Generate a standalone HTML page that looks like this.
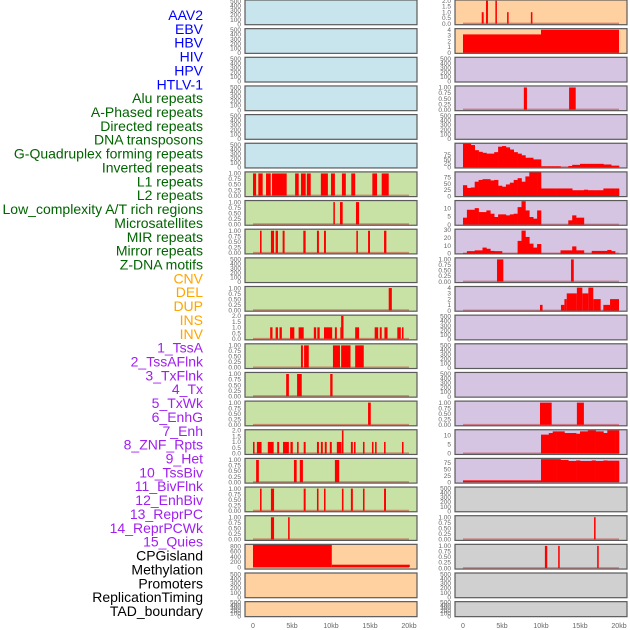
<!DOCTYPE html>
<html><head><meta charset="utf-8"><style>
html,body{margin:0;padding:0;background:#fff;width:630px;height:630px;overflow:hidden}
svg{display:block}
</style></head><body>
<svg id="chart" width="630" height="630" xmlns="http://www.w3.org/2000/svg" font-family="Liberation Sans, sans-serif"></svg>
<script>
// ---- track labels ----
const trackLabels = ["AAV2","EBV","HBV","HIV","HPV","HTLV-1","Alu repeats","A-Phased repeats","Directed repeats","DNA transposons","G-Quadruplex forming repeats","Inverted repeats","L1 repeats","L2 repeats","Low_complexity A/T rich regions","Microsatellites","MIR repeats","Mirror repeats","Z-DNA motifs","CNV","DEL","DUP","INS","INV","1_TssA","2_TssAFlnk","3_TxFlnk","4_Tx","5_TxWk","6_EnhG","7_Enh","8_ZNF_Rpts","9_Het","10_TssBiv","11_BivFlnk","12_EnhBiv","13_ReprPC","14_ReprPCWk","15_Quies","CPGisland","Methylation","Promoters","ReplicationTiming","TAD_boundary"];
const labelGroups = [6,13,5,15,5];
const groupColors = ["#0000ff","#006400","#ffa500","#a020f0","#000000"];
const xTickValues = [0,5,10,15,20];
const xTickLabels = ["0","5kb","10kb","15kb","20kb"];

// ---- segment data [startKb, endKb, value] ----
const leftL1 = [[0,0.4,1],[0.68,1.24,1],[1.67,2.27,1],[2.44,4.32,1],[5.4,5.86,1],[6.15,6.76,1],[6.9,7.4,1],[8.7,9.6,1],[10,10.5,1],[11.4,11.9,1],[12.6,13.1,1],[15.3,15.9,1],[16.5,17.4,1]];
const leftL2 = [[10.3,10.5,1],[11.15,11.5,1],[13.2,13.6,1]];
const leftMIR = [[0.9,1.1,1],[2.3,2.7,1],[2.9,3.2,1],[3.8,4.05,1],[6.45,6.75,1],[8.2,8.45,1],[9.1,9.35,1],[13.25,13.45,1],[14.75,15,1],[16.8,17.1,1]];
const leftZDNA = [[17.4,17.8,1]];
const leftDEL = [[2.2,2.5,1],[2.9,3.2,1],[3.4,3.7,1],[4.75,5.3,1],[5.85,6.5,1],[7.8,8.1,1],[8.25,8.55,1],[9.1,10.15,1],[10.5,10.75,1],[11.2,11.3,1],[11.3,11.6,2],[13.1,13.6,1],[15.6,16.05,1],[16.25,16.5,1],[16.85,17.25,1],[18.5,18.95,1],[19.1,19.3,1]];
const leftTssA = [[6.15,6.4,1],[6.55,7.15,1],[10.25,11.15,1],[11.3,12.5,1],[13.1,14.2,1]];
const leftTssAFlnk = [[4.25,4.6,1],[5.65,6.25,1],[9.9,10.2,1]];
const leftTxFlnk = [[14.75,15.1,1]];
const leftTx = [[0,0.2,1],[0.5,1.1,1],[1.9,2.65,1],[3.1,3.35,1],[3.85,4.6,1],[4.8,5.1,1],[5.65,5.85,1],[6.5,6.75,1],[8.2,8.45,1],[8.7,8.95,1],[9.2,9.45,1],[9.85,10.1,1],[10.75,11.35,1],[11.4,11.6,2],[12.55,12.8,1],[12.95,13.15,1],[14.1,14.3,1],[15.25,15.45,1],[15.65,15.85,1],[16.8,17,1],[19.1,19.3,1]];
const leftTxWk = [[0.4,0.75,1],[5.25,5.6,1],[6,6.4,1],[10.5,11.05,1]];
const leftEnhG = [[0.9,1.1,1],[2.3,2.7,1],[6.5,6.75,1],[8.2,8.4,1],[9.1,9.3,1],[11.4,11.6,1],[12.55,12.8,1],[14.1,14.3,1],[16.8,17.05,1]];
const leftEnh = [[2.3,2.7,1],[4.5,4.7,1]];
const leftCPG = [[0,10.1,860],[10.1,20.1,90]];
const rightINS = [[2.4,2.65,1],[2.95,3.2,2],[4.15,4.35,2],[5.65,5.85,1],[8.7,8.9,1]];
const rightINV = [[0,10,3.2],[10,20,4]];
const rightAlu = [[7.8,8.2,1],[13.6,14.45,1]];
const rightMicro = [[4.36,5.17,1],[13.85,14.2,1]];
const rightMIR = [[9.87,10.2,1],[12.56,13,1],[13,13.3,2],[13.3,14.6,3],[14.6,15.3,4],[15.3,16.07,3],[16.07,16.7,4],[16.7,17.65,2],[17.99,18.85,1],[18.85,20,2]];
const rightHet = [[9.87,11.37,1],[14.6,15.5,1]];
const rightMeth = [[16.8,17,1]];
const rightProm = [[10.5,10.8,1],[12.2,12.4,1],[17.2,17.4,1]];

// ---- binned profile data (0.5 kb bins from 0) ----
const profGQ = [146,146,135,104,94,88,83,83,92,125,129,121,108,92,83,73,58,58,48,48,6,6,6,6,6,0,0,8,15,15,21,21,21,21,21,21,17,17,10,10];
const profInv = [44,33,35,58,65,68,68,63,65,42,38,47,54,65,72,58,79,97,97,97,31,31,31,31,31,31,31,31,24,24,24,26,24,24,24,24,31,31,31,31];
const profLowC = [4.2,9,9,10,7.6,7.6,8.6,6.6,4.6,6.2,6.2,5.6,6.2,6.6,10.6,14.2,8.6,4.6,3.6,8.6,0,0,0,0,0,0,0,2.6,5.6,4.2,4.2,0,0,0,0,0,0,0,0,0];
const profMicro = [0.5,3,3,4,4,7.5,6,3.3,3,3,0,0,0,0,16,29,21,12.5,7.5,12,0,0,0,0,0,4,4,4,9,4,4,0,0,3.3,3.3,3.3,3.3,4.5,3,0];
const profZNF = [0,0,0,0,0,0,0,0,0,0,0,0,0,0,0,0,0,0,0,0,10.4,10.4,11.3,12.2,12.2,12.2,11.3,11.3,11.3,10.9,12.2,12.2,12.8,12.8,12.2,12.2,11.3,12.8,12.8,12.8];
const profHet = [6.6,6.6,6.6,6.6,6.6,6.6,6.6,6.6,6.6,6.6,6.6,6.6,6.6,6.6,6.6,6.6,6.6,6.6,6.6,6.6,89,89,89,89,89,86,86,82,82,84,82,82,82,84,82,82,84,83,83,83];

// ---- tick label sets ----
const ticksEmpty = ["500","400","300","200","100","0"];
const ticksEmptyVals = [500,400,300,200,100,0];
const ticksUnit = ["1.00","0.75","0.50","0.25","0.00"];
const ticksUnitVals = [1,0.75,0.5,0.25,0];
const ticksTwo = ["2.0","1.5","1.0","0.5","0.0"];
const ticksTwoVals = [2,1.5,1,0.5,0];
const ticksFour = ["4","3","2","1","0"];
const ticksFourVals = [4,3,2,1,0];

const BG = {blue:"#c8e4ec", green:"#c8e1a5", peach:"#ffd1a0", purple:"#d5c5e2", gray:"#d0d0d0"};
const PITCH = 28.65;
const svg = document.getElementById('chart');
const NS = "http://www.w3.org/2000/svg";
function mk(tag, attrs){const e=document.createElementNS(NS,tag);for(const k in attrs)e.setAttribute(k,attrs[k]);return e;}

// panel definitions
function P(col,row,bg,kind,data,ymin,ymax,tl,tv,name){return {col,row,bg,kind,data,ymin,ymax,tl,tv,name};}
const E = (c,r,bg,n)=>P(c,r,bg,'empty',null,-13,529,ticksEmpty,ticksEmptyVals,n);
const U = (c,r,bg,d,n)=>P(c,r,bg,'seg',d,-0.044,1.07,ticksUnit,ticksUnitVals,n);
const panels = [
 E(0,0,'blue','aav2'),E(0,1,'blue','ebv'),E(0,2,'blue','hbv'),E(0,3,'blue','hiv'),E(0,4,'blue','hpv'),E(0,5,'blue','htlv'),
 U(0,6,'green',leftL1,'alu'),U(0,7,'green',leftL2,'a-phased'),U(0,8,'green',leftMIR,'directed'),E(0,9,'green','dna-transposons'),
 U(0,10,'green',leftZDNA,'g-quadruplex'),P(0,11,'green','seg',leftDEL,-0.09,2.06,ticksTwo,ticksTwoVals,'inverted'),
 U(0,12,'green',leftTssA,'l1'),U(0,13,'green',leftTssAFlnk,'l2'),U(0,14,'green',leftTxFlnk,'low-complexity'),
 P(0,15,'green','seg',leftTx,-0.09,2.06,ticksTwo,ticksTwoVals,'microsatellites'),U(0,16,'green',leftTxWk,'mir'),
 U(0,17,'green',leftEnhG,'mirror'),U(0,18,'green',leftEnh,'z-dna'),
 P(0,19,'peach','seg',leftCPG,-76,865,["800","600","400","200","0"],[800,600,400,200,0],'cnv'),
 E(0,20,'peach','del'),E(0,21,'peach','dup'),
 P(1,0,'peach','seg',rightINS,-0.09,2.06,ticksTwo,ticksTwoVals,'ins'),P(1,1,'peach','seg',rightINV,-0.1,4.2,ticksFour,ticksFourVals,'inv'),
 E(1,2,'purple','tssa'),U(1,3,'purple',rightAlu,'tssaflnk'),E(1,4,'purple','txflnk'),
 P(1,5,'purple','prof',profGQ,-4,146,["75","50","25","0"],[75,50,25,0],'tx'),
 P(1,6,'purple','prof',profInv,-1.4,97,["75","50","25","0"],[75,50,25,0],'txwk'),
 P(1,7,'purple','prof',profLowC,-0.4,14.6,["10","5","0"],[10,5,0],'enhg'),
 P(1,8,'purple','prof',profMicro,-0.5,30.8,["30","20","10","0"],[30,20,10,0],'enh'),
 U(1,9,'purple',rightMicro,'znf'),P(1,10,'purple','seg',rightMIR,-0.1,4.2,ticksFour,ticksFourVals,'het'),
 E(1,11,'purple','tssbiv'),E(1,12,'purple','bivflnk'),E(1,13,'purple','enhbiv'),
 U(1,14,'purple',rightHet,'reprpc'),
 P(1,15,'purple','prof',profZNF,-0.55,13.1,["10","5","0"],[10,5,0],'reprpcwk'),
 P(1,16,'purple','prof',profHet,-4,92,["75","50","25","0"],[75,50,25,0],'quies'),
 E(1,17,'gray','cpgisland'),U(1,18,'gray',rightMeth,'methylation'),U(1,19,'gray',rightProm,'promoters'),
 E(1,20,'gray','replication-timing'),E(1,21,'gray','tad-boundary')
];

// labels
let li=0;
labelGroups.forEach((n,g)=>{for(let k=0;k<n;k++){
  const t=mk('text',{x:203,y:15+li*13.86+5,'text-anchor':'end','font-size':'14',fill:groupColors[g]});
  t.textContent=trackLabels[li];
  
  
  svg.appendChild(t);li++;}});

panels.forEach(p=>{
  const px = p.col===0?245:455, pw=172;
  const top = p.row*PITCH, h = p.row===21?15:24.7;
  const x = kb=>px+8+kb*7.8;
  const y = v=>top+h*(p.ymax-v)/(p.ymax-p.ymin);
  const g=mk('g',{});
  
  
  const r=mk('rect',{x:px,y:top,width:pw,height:h,fill:BG[p.bg]});
  
  
  g.appendChild(r);
  if(p.kind!=='empty'){
    const bl=mk('line',{x1:x(0),x2:x(20),y1:y(0),y2:y(0),stroke:'rgba(200,30,30,0.45)','stroke-width':2});
    
    
    g.appendChild(bl);
  }
  if(p.kind==='seg'){
    p.data.forEach(d=>{
      const b=mk('rect',{x:x(d[0]),y:y(d[2]),width:Math.max(1,x(d[1])-x(d[0])),height:y(0)-y(d[2]),fill:'#ff0000'});
      
      
      g.appendChild(b);
    });
  } else if(p.kind==='prof'){
    p.data.forEach((v,i)=>{
      if(v<=0) return;
      const b=mk('rect',{x:x(i*0.5),y:y(v),width:x((i+1)*0.5)-x(i*0.5)+0.3,height:y(0)-y(v),fill:'#ff0000'});
      
      
      g.appendChild(b);
    });
  }
  const f=mk('rect',{x:px,y:top,width:pw,height:h,fill:'none',stroke:'#5a5a5a','stroke-width':1.2});
  
  
  g.appendChild(f);
  p.tl.forEach((lab,i)=>{
    const t=mk('text',{x:px-4,y:y(p.tv[i])+2.2,'text-anchor':'end','font-size':'6.5',fill:'#666'});
    t.textContent=lab;
    
    
    g.appendChild(t);
  });
  svg.appendChild(g);
});

// x axes
[245,455].forEach(px=>{
  xTickValues.forEach((v,i)=>{
    const t=mk('text',{x:px+8+v*7.8,y:628,'text-anchor':'middle','font-size':'7',fill:'#666'});
    t.textContent=xTickLabels[i];
    
    
    svg.appendChild(t);
  });
});
</script>
</body></html>
